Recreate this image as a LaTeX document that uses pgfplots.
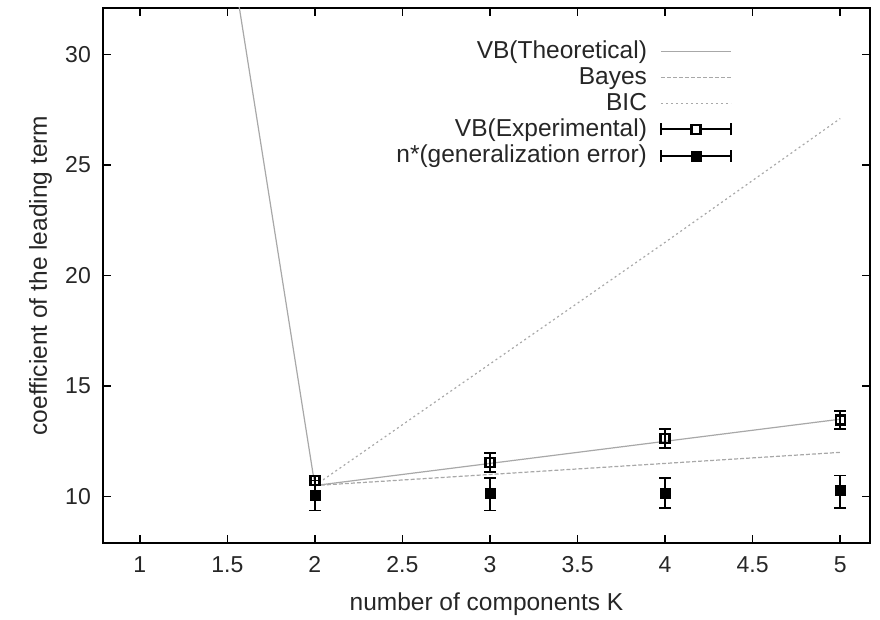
\documentclass[border=0pt]{standalone}
\usepackage{fontspec}
\setmainfont{Liberation Sans}
\usepackage{pgfplots}
\pgfplotsset{compat=1.18}

\definecolor{thline}{gray}{0.66}

\begin{document}
\fontsize{24bp}{28bp}\selectfont
\begin{tikzpicture}
\begin{axis}[
    scale only axis,
    width=767bp, height=535bp,
    xmin=0.79, xmax=5.17,
    ymin=7.9, ymax=32.1,
    xtick={1,1.5,...,5},
    ytick={10,15,20,25,30},
    tick align=inside,
    major tick length=8bp,
    axis line style={line width=1.6bp},
    every tick/.style={line width=1.6bp, black},
    /pgf/number format/assume math mode=true,
    ticklabel style={font=\fontsize{23bp}{27bp}\selectfont, text=black!85},
    xticklabel style={yshift=-5bp},
    yticklabel style={xshift=-4bp},
    xlabel={number of components K},
    ylabel={coefficient of the leading term},
    label style={font=\fontsize{24.5bp}{28bp}\selectfont, text=black!85},
    xlabel style={yshift=-4bp},
    ylabel style={yshift=-3bp},
    clip=true,
    legend plot pos=right,
    legend cell align=right,
    legend image code/.code={\draw[#1] (0bp,0bp) -- (70bp,0bp);},
    legend style={draw=none, fill=none, at={(0.82,0.942)}, anchor=north east,
        font=\fontsize{24.5bp}{28bp}\selectfont, text=black!85,
        row sep=1bp, inner sep=0pt,
        /tikz/column 1/.style={column sep=11bp}},
]
\coordinate (sw) at (rel axis cs:0,0);
\coordinate (ne) at (rel axis cs:1,1);

\addplot[thline, line width=1.2bp]
    coordinates {(1,60.6) (2,10.5) (3,11.5) (4,12.5) (5,13.5)};
\addlegendentry{VB(Theoretical)}

\addplot[thline, line width=1.2bp, dash pattern=on 4bp off 2bp]
    coordinates {(2,10.5) (3,11.0) (4,11.5) (5,12.0)};
\addlegendentry{Bayes}

\addplot[thline, line width=1.2bp, dash pattern=on 2bp off 3bp]
    coordinates {(2,10.5) (3,16.0) (4,21.5) (5,27.1)};
\addlegendentry{BIC}

\addplot[black, only marks, mark=square, mark size=4.5bp, forget plot,
    mark options={line width=2.4bp},
    error bars/.cd, y dir=both, y explicit,
    error bar style={line width=1.8bp},
    error mark options={rotate=90, mark size=6bp, line width=1.8bp}]
    coordinates {
    (2,10.72) +- (0,0.2)
    (3,11.54) +- (0,0.42)
    (4,12.62) +- (0,0.42)
    (5,13.46) +- (0,0.40)
    };
\addlegendimage{legend image code/.code={
    \draw[black, line width=1.8bp] (0bp,0bp) -- (70bp,0bp);
    \draw[black, line width=1.8bp] (0bp,-6bp) -- (0bp,6bp);
    \draw[black, line width=1.8bp] (70bp,-6bp) -- (70bp,6bp);
    \draw[black, line width=2.4bp, fill=white] (30.5bp,-4.5bp) rectangle (39.5bp,4.5bp);
}}
\addlegendentry{VB(Experimental)}

\addplot[black, only marks, mark=square*, mark size=5bp, forget plot,
    error bars/.cd, y dir=both, y explicit,
    error bar style={line width=1.8bp},
    error mark options={rotate=90, mark size=6bp, line width=1.8bp}]
    coordinates {
    (2,10.05) +- (0,0.68)
    (3,10.17) += (0,0.68) -= (0,0.80)
    (4,10.15) += (0,0.70) -= (0,0.65)
    (5,10.30) += (0,0.65) -= (0,0.80)
    };
\addlegendimage{legend image code/.code={
    \draw[black, line width=1.8bp] (0bp,0bp) -- (70bp,0bp);
    \draw[black, line width=1.8bp] (0bp,-6bp) -- (0bp,6bp);
    \draw[black, line width=1.8bp] (70bp,-6bp) -- (70bp,6bp);
    \fill[black] (30bp,-5bp) rectangle (40bp,5bp);
}}
\addlegendentry{n*(generalization error)}
\end{axis}
\pgfresetboundingbox
\path[use as bounding box] ([shift={(-103bp,-77bp)}]sw) rectangle ([shift={(10bp,8bp)}]ne);
\end{tikzpicture}
\end{document}
